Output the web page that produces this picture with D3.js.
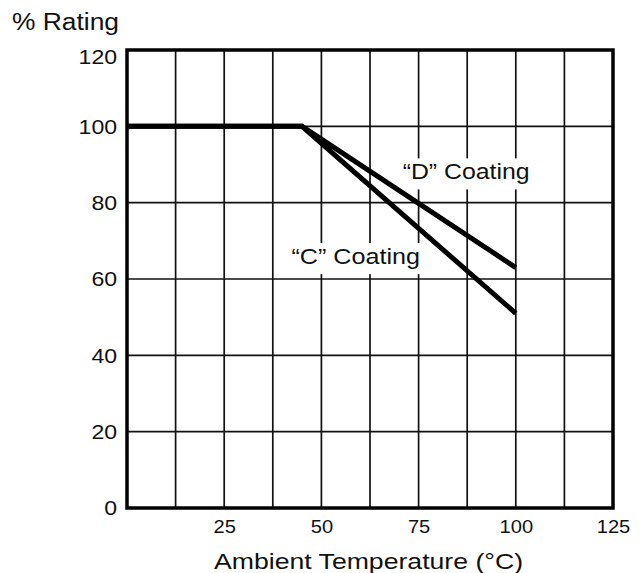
<!DOCTYPE html>
<html>
<head>
<meta charset="utf-8">
<script src="https://cdn.jsdelivr.net/npm/d3@7"></script>
<style>
  body { margin: 0; background: #fff; }
  text { font-family: "Liberation Sans", Arial, sans-serif; fill: #111; }
</style>
</head>
<body>
<svg id="chart" width="640" height="573"></svg>
<script>
// derating curves
const temps = [0, 45, 100];
const coatingD = [100, 100, 63];
const coatingC = [100, 100, 51];

const xGrid = [12.5, 25, 37.5, 50, 62.5, 75, 87.5, 100, 112.5];
const xLabels = [25, 50, 75, 100, 125];
const yTicks = [0, 20, 40, 60, 80, 100, 120];

// label text + anchor in data units (temp, rating)
const curveLabels = [
  { text: '“D” Coating', t: 70.9, r: 86.1, len: 127 },
  { text: '“C” Coating', t: 42.3, r: 63.9, len: 128.5 }
];

const margin = { top: 50, left: 127 },
  width = 486,
  height = 458;

const svg = d3.select('#chart');
const chart = svg.append('g')
  .attr('transform', 'translate(' + margin.left + ',' + margin.top + ')');

const x = d3.scaleLinear().domain([0, 125]).range([0, width]);
const y = d3.scaleLinear().domain([0, 120]).range([height, 0]);

// grid
chart.append('g').attr('class', 'grid-x').
  selectAll('line').data(xGrid).enter().append('line').
    attr('x1', d => x(d)).attr('x2', d => x(d)).
    attr('y1', 0).attr('y2', height).
    attr('stroke', '#111').attr('stroke-width', 1.7);

chart.append('g').attr('class', 'grid-y').
  selectAll('line').data(yTicks.slice(1, -1)).enter().append('line').
    attr('x1', 0).attr('x2', width).
    attr('y1', d => y(d)).attr('y2', d => y(d)).
    attr('stroke', '#111').attr('stroke-width', 1.7);

// white boxes behind the curve labels (they cut the grid)
const bgLayer = chart.append('g');

// frame
chart.append('rect').
  attr('x', 0).attr('y', 0).attr('width', width).attr('height', height).
  attr('fill', 'none').attr('stroke', '#000').attr('stroke-width', 3.5);

// curves
const line = d3.line().x(d => x(d[0])).y(d => y(d[1]));
[coatingD, coatingC].forEach((vals) => {
  chart.append('path').
    datum(temps.map((t, i) => [t, vals[i]])).
    attr('d', line).
    attr('fill', 'none').
    attr('stroke', '#000').
    attr('stroke-width', 5).
    attr('stroke-linejoin', 'miter');
});

// axes (labels only, grid drawn above)
const xAxis = d3.axisBottom(x).tickValues(xLabels).tickSize(0).tickPadding(12.5);
const gx = chart.append('g').attr('transform', 'translate(0,' + height + ')').call(xAxis);
gx.select('.domain').remove();
gx.selectAll('text').
  style('font-size', '17.5px').
  attr('fill', '#111').
  attr('transform', 'scale(1.15,1)');

const yAxis = d3.axisLeft(y).tickValues(yTicks).tickSize(0).tickPadding(9);
const gy = chart.append('g').call(yAxis);
gy.select('.domain').remove();
gy.selectAll('text').
  style('font-size', '21px').
  attr('fill', '#111').
  attr('dy', d => d === 120 ? '0.65em' : '0.32em').
  attr('transform', 'scale(1.1,1)');

// curve labels
curveLabels.forEach((lb) => {
  const t = chart.append('text').
    attr('x', x(lb.t)).attr('y', y(lb.r)).
    attr('textLength', lb.len).attr('lengthAdjust', 'spacingAndGlyphs').
    style('font-size', '22px').
    text(lb.text);
  const bb = t.node().getBBox();
  bgLayer.append('rect').
    attr('x', bb.x - 3).attr('y', bb.y - 1).
    attr('width', bb.width + 6).attr('height', bb.height + 6).
    attr('fill', '#fff');
});

// titles
svg.append('text').
  attr('x', 214).attr('y', 569.3).
  attr('textLength', 309).attr('lengthAdjust', 'spacingAndGlyphs').
  style('font-size', '22px').
  text('Ambient Temperature (°C)');

svg.append('text').
  attr('x', 12).attr('y', 29.5).
  attr('textLength', 107).attr('lengthAdjust', 'spacingAndGlyphs').
  style('font-size', '23px').
  text('% Rating');
</script>
</body>
</html>
